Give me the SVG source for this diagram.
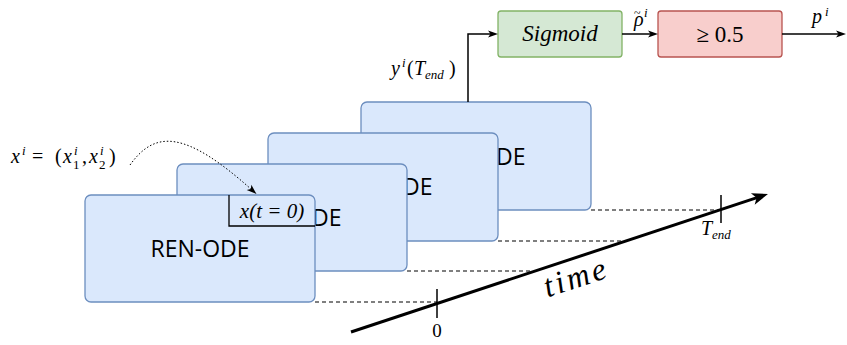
<svg xmlns="http://www.w3.org/2000/svg" width="847" height="345" viewBox="0 0 847 345">
<style>
.box{fill:#dae8fc;stroke:#6c8ebf;stroke-width:1.3}
.lbl{font-family:'Open Sans','Liberation Sans',sans-serif;font-size:23px;fill:#000;text-anchor:middle}
.m{font-family:'Liberation Serif','DejaVu Serif','Times New Roman',serif;font-style:italic;font-size:20px;fill:#000}
.r{font-style:normal}
.s{font-size:13px}
.ln{fill:none;stroke:#000;stroke-width:1.5}
.dash{fill:none;stroke:#000;stroke-width:1.2;stroke-dasharray:4 3}
</style>
<defs>
<marker id="arr" markerUnits="userSpaceOnUse" markerWidth="10" markerHeight="8" refX="4" refY="3.5" orient="auto" overflow="visible">
<path d="M0,0 L10,3.5 L0,7 L2.5,3.5 z" fill="#000"/>
</marker>
<marker id="arrBig" markerUnits="userSpaceOnUse" markerWidth="16" markerHeight="12" refX="6" refY="6" orient="auto" overflow="visible">
<path d="M0,0 L16,6 L0,12 L4,6 z" fill="#000"/>
</marker>
</defs>

<g id="connectors-back">
<path class="dash" d="M315,302 H437"/>
<path class="dash" d="M407,271 H533"/>
<path class="dash" d="M498,241 H624"/>
<path class="dash" d="M591,210 H721"/>
</g>

<g id="node-ren4">
<rect class="box" x="361" y="102" width="230" height="108" rx="6"/>
<text class="lbl" x="476" y="164.5">REN-ODE</text>
</g>
<g id="node-ren3">
<rect class="box" x="268" y="133" width="230" height="108" rx="6"/>
<text class="lbl" x="383" y="195">REN-ODE</text>
</g>
<g id="node-ren2">
<rect class="box" x="177" y="164" width="230" height="107" rx="6"/>
<text class="lbl" x="292" y="226">REN-ODE</text>
</g>
<g id="node-ren1">
<rect class="box" x="85" y="195" width="230" height="107" rx="6"/>
<text class="lbl" x="200" y="256.5">REN-ODE</text>
</g>

<g id="node-x0">
<path d="M229,195 V226 H315" fill="none" stroke="#000" stroke-width="1.3"/>
<text class="m" x="272" y="218" text-anchor="middle" style="font-size:21px">x(t = 0)</text>
</g>

<g id="node-sigmoid">
<rect x="498" y="11" width="124" height="46" rx="3" fill="#d5e8d4" stroke="#82b366" stroke-width="1.3"/>
<text class="m" x="560" y="41" text-anchor="middle" style="font-size:23px">Sigmoid</text>
</g>

<g id="node-threshold">
<rect x="658" y="11" width="124" height="46" rx="3" fill="#f8cecc" stroke="#b85450" stroke-width="1.3"/>
<text class="m r" x="720" y="42" text-anchor="middle" style="font-size:23px">≥ 0.5</text>
</g>

<g id="label-xi">
<text class="m" x="11" y="163">x</text>
<text class="m s" x="22" y="155">i</text>
<text class="m r" x="32" y="163">=</text>
<text class="m r" x="55" y="163">(</text>
<text class="m" x="63" y="163">x</text>
<text class="m s" x="74" y="155">i</text>
<text class="m r s" x="73" y="169">1</text>
<text class="m r" x="82" y="163">,</text>
<text class="m" x="89" y="163">x</text>
<text class="m s" x="100" y="155">i</text>
<text class="m r s" x="99" y="169">2</text>
<text class="m r" x="109" y="163">)</text>
</g>

<g id="label-yi">
<text class="m" x="391" y="75">y</text>
<text class="m s" x="402" y="67">i</text>
<text class="m r" x="407" y="75">(</text>
<text class="m" x="414" y="75">T</text>
<text class="m s" x="425" y="79">end</text>
<text class="m r" x="449" y="75">)</text>
</g>

<g id="label-rho">
<text class="m" x="634" y="26">ρ</text>
<text class="m r" x="634" y="17" style="font-size:12px">~</text>
<text class="m s" x="644" y="17">i</text>
</g>

<g id="label-p">
<text class="m" x="812" y="23">p</text>
<text class="m s" x="825" y="16">i</text>
</g>

<g id="connectors">
<path class="ln" d="M468,102 V34 H492" marker-end="url(#arr)"/>
<path class="ln" d="M622,34 H652" marker-end="url(#arr)"/>
<path class="ln" d="M782,34 H840" marker-end="url(#arr)"/>
<path d="M130,165 C155,130 185,130 252,190" fill="none" stroke="#000" stroke-width="1" stroke-dasharray="1.5 2" marker-end="url(#arr)"/>
<path d="M351,332 L758.5,197.1" fill="none" stroke="#000" stroke-width="3" marker-end="url(#arrBig)"/>
<path class="ln" d="M437,289 V318"/>
<path class="ln" d="M721,195 V223"/>
</g>

<g id="axis-labels">
<text class="m r" x="437" y="337" text-anchor="middle" style="font-size:19px">0</text>
<text class="m" x="701" y="235">T</text>
<text class="m s" x="712" y="239">end</text>
<text class="m" x="575" y="288" text-anchor="middle" transform="rotate(-18.3 575 279)" style="font-size:32px" textLength="64" lengthAdjust="spacing">time</text>
</g>
</svg>
